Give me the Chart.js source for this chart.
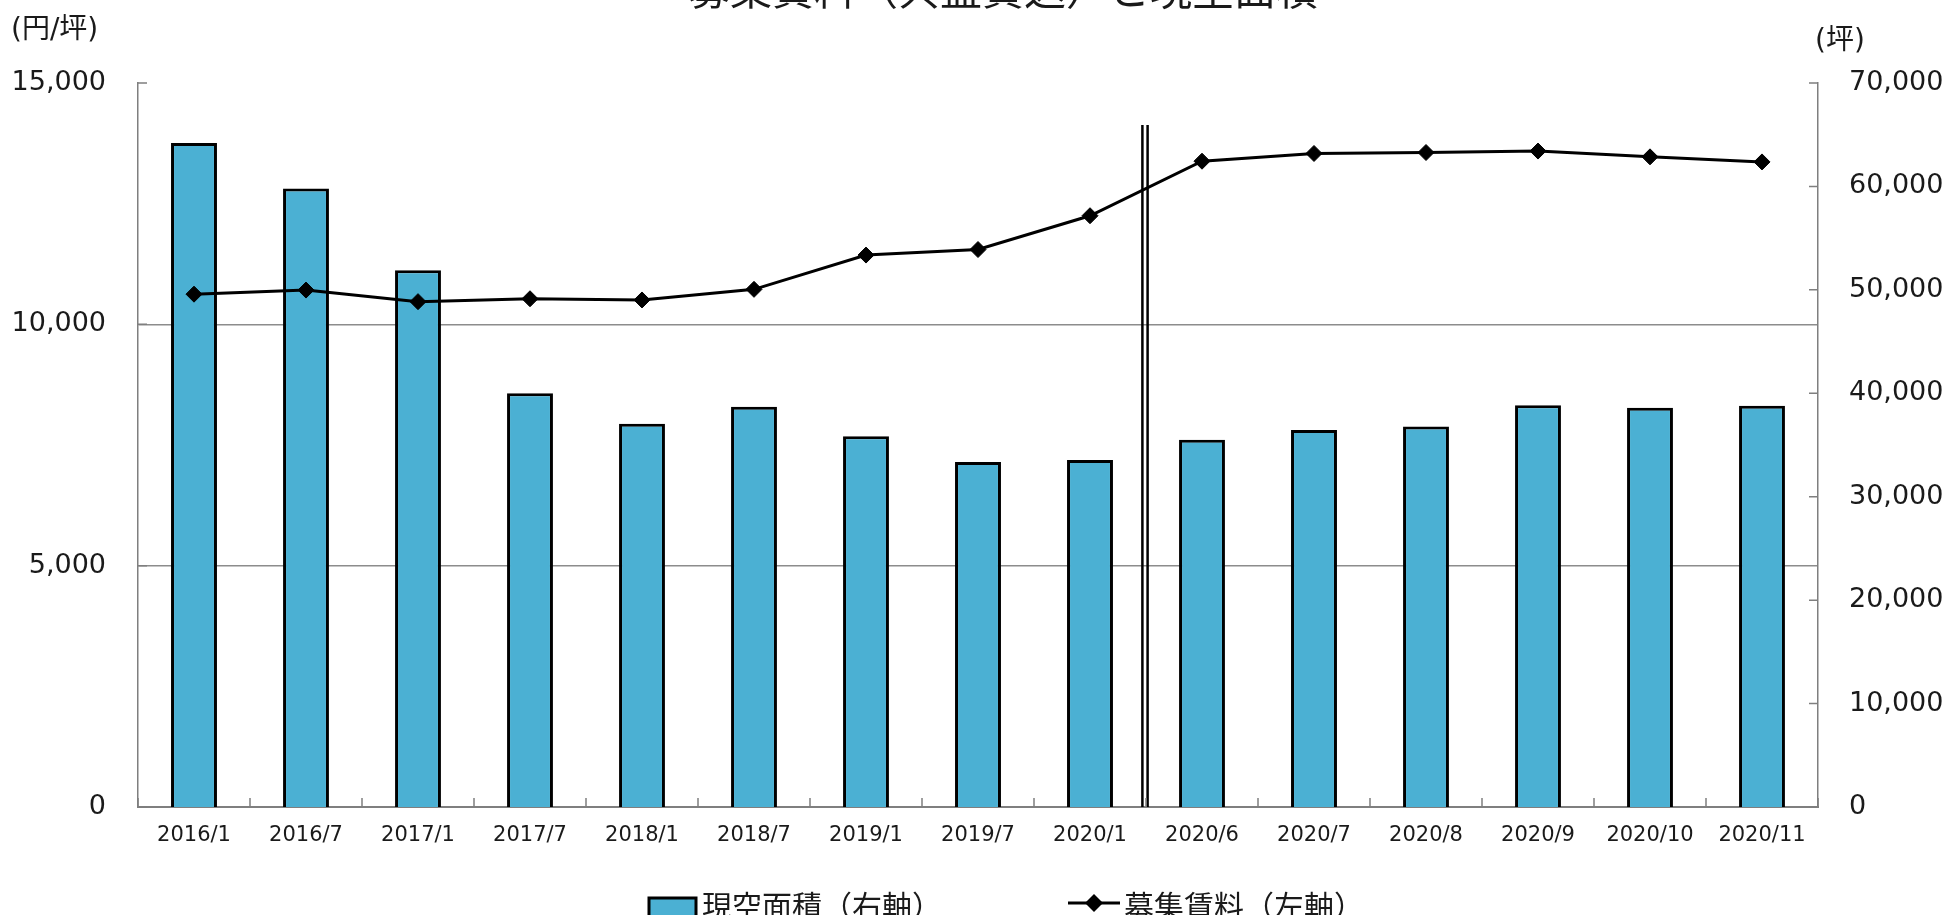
<!DOCTYPE html>
<html lang="ja">
<head>
<meta charset="utf-8">
<title>募集賃料（共益費込）と現空面積</title>
<script src="https://cdn.jsdelivr.net/npm/chart.js@4.4.1/dist/chart.umd.min.js"></script>
<style>
  html, body { margin: 0; padding: 0; background: #fff; overflow: hidden; }
  canvas { display: block; }
</style>
</head>
<body>
<canvas id="chart" width="1951" height="915"></canvas>
<script>
// data
const chartTitle = '募集賃料（共益費込）と現空面積'
const periods = ['2016/1', '2016/7', '2017/1', '2017/7', '2018/1', '2018/7', '2019/1', '2019/7',
                 '2020/1', '2020/6', '2020/7', '2020/8', '2020/9', '2020/10', '2020/11']
const vacantArea = [64200, 59800, 51900, 40000, 37050, 38700, 35850, 33350,
                    33550, 35500, 36450, 36800, 38850, 38600, 38800]
const askingRent = [10625, 10710, 10470, 10530, 10505, 10725, 11435, 11550,
                    12250, 13380, 13540, 13560, 13590, 13470, 13365]
const rentTicks = [0, 5000, 10000, 15000]
const areaTicks = [0, 10000, 20000, 30000, 40000, 50000, 60000, 70000]
const rentGridValues = [5000, 10000]
const unitLeft = '(円/坪)'
const unitRight = '(坪)'
const areaLabel = '現空面積（右軸）'
const rentLabel = '募集賃料（左軸）'

const BAR_BLUE = '#4BB0D3'
const AXIS_GRAY = '#7f7f7f'
const TEXT = '#1a1a1a'
const LATIN = '"DejaVu Sans", "Noto Sans CJK JP", sans-serif'
const CJK = '"Noto Sans CJK JP", sans-serif'

const fmt = v => v.toLocaleString('en-US')

// title, unit labels, inner ticks, break line and legend
const decorations = {
    id: 'decorations',
    beforeDatasetsDraw(chart) {
        const { ctx, chartArea, scales: { x, yRent } } = chart
        const mid = (x.getPixelForValue(8) + x.getPixelForValue(9)) / 2
        const top = yRent.getPixelForValue(14130)
        ctx.save()
        ctx.strokeStyle = '#000'
        ctx.lineWidth = 2.5
        for (const dx of [-3.6, 1.6]) {
            ctx.beginPath()
            ctx.moveTo(mid + dx, top)
            ctx.lineTo(mid + dx, chartArea.bottom)
            ctx.stroke()
        }
        ctx.restore()
    },
    afterDraw(chart) {
        const { ctx, chartArea, scales: { x, yRent, yArea } } = chart
        ctx.save()

        // inner tick marks
        ctx.strokeStyle = AXIS_GRAY
        ctx.lineWidth = 1.5
        const tl = 9
        ctx.beginPath()
        rentTicks.forEach(v => {
            const py = yRent.getPixelForValue(v)
            ctx.moveTo(chartArea.left, py); ctx.lineTo(chartArea.left + tl, py)
        })
        areaTicks.forEach(v => {
            const py = yArea.getPixelForValue(v)
            ctx.moveTo(chartArea.right - tl, py); ctx.lineTo(chartArea.right, py)
        })
        const step = x.getPixelForValue(1) - x.getPixelForValue(0)
        for (let i = 0; i <= periods.length; i++) {
            const px = x.getPixelForValue(0) - step / 2 + i * step
            ctx.moveTo(px, chartArea.bottom); ctx.lineTo(px, chartArea.bottom - tl)
        }
        ctx.stroke()

        // title (cut by the top edge as in the source)
        ctx.fillStyle = TEXT
        ctx.textAlign = 'center'
        ctx.textBaseline = 'alphabetic'
        ctx.font = '42px ' + CJK
        ctx.fillText(chartTitle, 1003, 5)

        // axis units
        ctx.textAlign = 'left'
        ctx.textBaseline = 'middle'
        ctx.font = '28px ' + LATIN
        ctx.fillText(unitLeft, 11, 31)
        ctx.fillText(unitRight, 1815, 42)

        // legend
        const bars = chart.data.datasets[0]
        const line = chart.data.datasets[1]
        ctx.fillStyle = bars.backgroundColor
        ctx.fillRect(649, 898, 47, 30)
        ctx.strokeStyle = bars.borderColor
        ctx.lineWidth = 3
        ctx.strokeRect(649, 898, 47, 30)

        ctx.strokeStyle = line.borderColor
        ctx.lineWidth = line.borderWidth
        ctx.beginPath()
        ctx.moveTo(1068, 903); ctx.lineTo(1120, 903)
        ctx.stroke()
        ctx.fillStyle = line.pointBackgroundColor
        ctx.beginPath()
        ctx.moveTo(1094, 894); ctx.lineTo(1103, 903); ctx.lineTo(1094, 912); ctx.lineTo(1085, 903)
        ctx.closePath()
        ctx.fill()

        ctx.fillStyle = TEXT
        ctx.textBaseline = 'alphabetic'
        ctx.font = '30px ' + CJK
        ctx.fillText(areaLabel, 702, 917)
        ctx.fillText(rentLabel, 1124, 917)

        ctx.restore()
    }
}

new Chart(document.getElementById('chart'), {
    type: 'bar',
    data: {
        labels: periods,
        datasets: [
            {
                type: 'bar',
                label: areaLabel,
                data: vacantArea,
                yAxisID: 'yArea',
                backgroundColor: BAR_BLUE,
                borderColor: '#000',
                borderWidth: 3,
                categoryPercentage: 1,
                barPercentage: 0.41,
                order: 2
            },
            {
                type: 'line',
                label: rentLabel,
                data: askingRent,
                yAxisID: 'yRent',
                borderColor: '#000',
                borderWidth: 3,
                pointStyle: 'rectRot',
                pointRadius: 8,
                pointBorderWidth: 1,
                pointBackgroundColor: '#000',
                pointBorderColor: '#000',
                tension: 0,
                order: 1
            }
        ]
    },
    options: {
        responsive: false,
        animation: false,
        devicePixelRatio: 1,
        layout: { padding: { top: 83, left: 0, right: 0, bottom: 0 } },
        plugins: {
            legend: { display: false },
            title: { display: false },
            tooltip: { enabled: false }
        },
        scales: {
            x: {
                offset: true,
                grid: { display: false },
                border: { display: true, color: AXIS_GRAY, width: 2 },
                ticks: {
                    color: TEXT,
                    padding: 8,
                    maxRotation: 0,
                    autoSkip: false,
                    font: { family: LATIN, size: 21 }
                },
                afterFit: s => { s.height = 108 }
            },
            yRent: {
                position: 'left',
                min: 0,
                max: 15000,
                afterBuildTicks: s => { s.ticks = rentTicks.map(v => ({ value: v })) },
                grid: {
                    drawTicks: false,
                    lineWidth: 1.5,
                    color: c => rentGridValues.includes(c.tick && c.tick.value) ? '#8c8c8c' : 'rgba(0,0,0,0)'
                },
                border: { display: true, color: AXIS_GRAY, width: 1.5 },
                ticks: {
                    color: TEXT,
                    padding: 32,
                    font: { family: LATIN, size: 27 },
                    callback: v => fmt(v)
                },
                afterFit: s => { s.width = 138 }
            },
            yArea: {
                position: 'right',
                min: 0,
                max: 70000,
                afterBuildTicks: s => { s.ticks = areaTicks.map(v => ({ value: v })) },
                grid: { display: false, drawTicks: false },
                border: { display: true, color: AXIS_GRAY, width: 1.5 },
                ticks: {
                    color: TEXT,
                    padding: 31,
                    font: { family: LATIN, size: 27 },
                    callback: v => fmt(v)
                },
                afterFit: s => { s.width = 133 }
            }
        }
    },
    plugins: [decorations]
})
</script>
</body>
</html>
